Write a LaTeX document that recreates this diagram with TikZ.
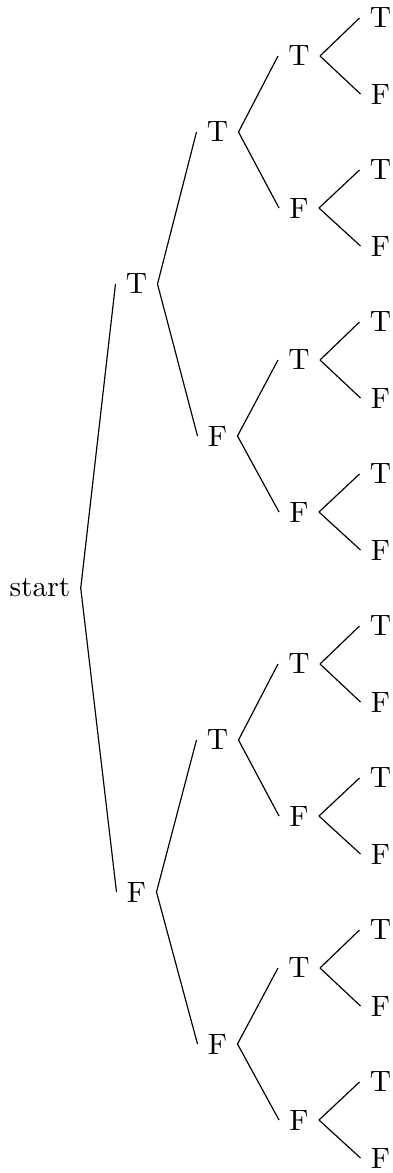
\documentclass[tikz,border=0pt]{standalone}
\begin{document}
\begin{tikzpicture}[x=0.34pt,y=-0.34pt,
  tn/.style={inner sep=.3333em},
  br/.style={line width=0.4pt}]
\useasboundingbox (0,0) rectangle (393,1173);
\node[tn] (r) at (40,588) {start};
\foreach \m in {0,1}{
  \pgfmathsetmacro\yy{284+608*\m}
  \node[tn] (a\m) at (136.5,\yy) {\ifodd\m F\else T\fi};
  \draw[br] (r.east) -- (a\m.west);
}
\foreach \k in {0,...,3}{
  \pgfmathsetmacro\yy{132+304*\k}
  \pgfmathtruncatemacro\p{\k/2}
  \node[tn] (b\k) at (217.5,\yy) {\ifodd\k F\else T\fi};
  \draw[br] (a\p.east) -- (b\k.west);
}
\foreach \j in {0,...,7}{
  \pgfmathsetmacro\yy{56+152*\j}
  \pgfmathtruncatemacro\p{\j/2}
  \node[tn] (c\j) at (299,\yy) {\ifodd\j F\else T\fi};
  \draw[br] (b\p.east) -- (c\j.west);
}
\foreach \i in {0,...,15}{
  \pgfmathsetmacro\yy{18+76*\i}
  \pgfmathtruncatemacro\p{\i/2}
  \node[tn] (d\i) at (380.5,\yy) {\ifodd\i F\else T\fi};
  \draw[br] (c\p.east) -- (d\i.west);
}
\end{tikzpicture}
\end{document}
